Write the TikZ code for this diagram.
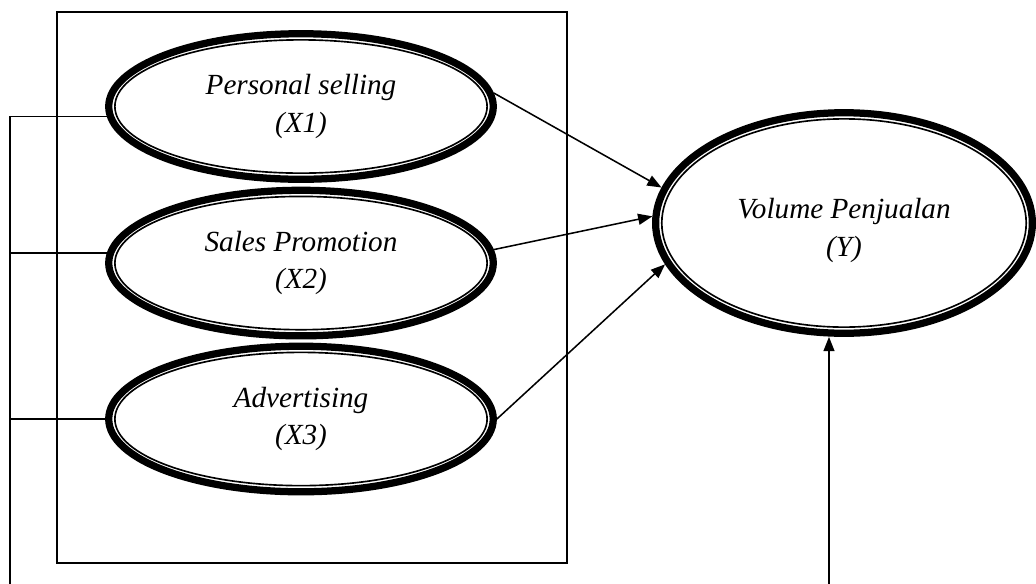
\documentclass[tikz,border=0pt]{standalone}
\usepackage{fontspec}
\setmainfont{Liberation Serif}
\usepackage{tikz}
\usetikzlibrary{shapes.geometric,arrows.meta,positioning}

\begin{document}
\begin{tikzpicture}[
    x=0.016cm, y=-0.016cm,
    latent/.style 2 args={ellipse, draw, line width=3.3pt, minimum width=#1, minimum height=#2,
        inner sep=0pt, align=center, font=\fontsize{13.3}{17}\selectfont\itshape,
        path picture={\draw[line width=0.75pt] (path picture bounding box.center)
            ellipse [x radius=#1/2-2.8pt, y radius=#2/2-2.8pt];}},
    conn/.style={line width=0.7pt},
    arrow/.style={line width=0.7pt,-{Triangle[length=6.5pt,width=5pt]}}
]
\useasboundingbox (0,0) rectangle (1036,584);

% Frame round the independent variables
\draw[conn] (57,12) rectangle (567,563);

% Independent variables
\node[latent={6.155cm}{2.33cm}] (x1) at (301,106.5) {Personal selling\\(X1)};
\node[latent={6.155cm}{2.33cm}, below=0.06cm of x1] (x2) {Sales Promotion\\(X2)};
\node[latent={6.155cm}{2.33cm}, below=0.05cm of x2] (x3) {Advertising\\(X3)};

% Dependent variable
\node[latent={6.03cm}{3.53cm}, text height=33pt] (vol) at (844,223) {Volume Penjualan\\(Y)};

% Partial effects
\draw[arrow] (x1.4) -- (vol.169);
\draw[arrow] (x2.4) -- (vol.178);
\draw[arrow] (x3.east) -- (vol.193);

% Simultaneous effect
\coordinate (lbot) at (10,584);
\coordinate (ybot) at (829,584);
\draw[conn] (x1.183) -| (lbot);
\draw[conn] (x2.177) -- (x2.177 -| lbot);
\draw[conn] (x3.west) -- (x3.west -| lbot);
\draw[arrow] (ybot) -- (ybot |- vol.south);

\end{tikzpicture}
\end{document}
